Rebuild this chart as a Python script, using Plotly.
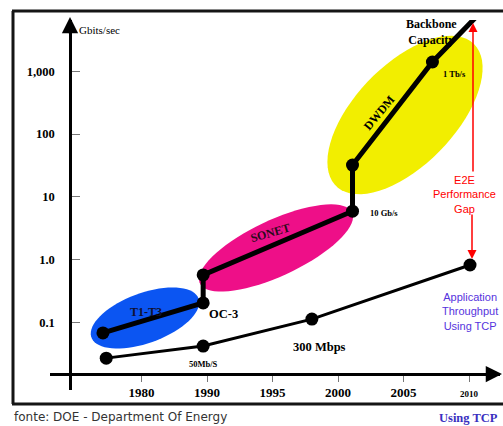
import numpy as np
import plotly.graph_objects as go

# ---------------- data ----------------
tick_years = [1980, 1990, 1995, 2000, 2005, 2010]
tick_labels = ["1980", "1990", "1995", "2000", "2005", "<span style='font-size:9px'>2010</span>"]
y_tick_values = [0.1, 1, 10, 100, 1000]
y_tick_labels = ["0.1", "1.0", "10", "100", "1,000"]

backbone_years = [1974.1, 1989.4, 1989.4, 2001.1, 2001.1, 2007.2, 2010.45]
backbone_gbps = [0.068, 0.204, 0.57, 5.9, 32, 1400, 7000]

app_years = [1974.6, 1989.4, 1998.0, 2010.07]
app_gbps = [0.027, 0.042, 0.113, 0.82]

W, H = 503, 426


def year_pos(years):
    """Map years onto the evenly spaced tick scale of the drawing."""
    ty = np.array(tick_years, float)
    tp = np.arange(len(ty), dtype=float)
    out = []
    for y in np.atleast_1d(years):
        if y < ty[0]:
            out.append(tp[0] + (y - ty[0]) / (ty[1] - ty[0]))
        elif y > ty[-1]:
            out.append(tp[-1] + (y - ty[-1]) / (ty[-1] - ty[-2]))
        else:
            out.append(float(np.interp(y, ty, tp)))
    return out


def px(x, y):
    return x / W, 1 - y / H


def ellipse_path(cx, cy, a, b, ang, n=72):
    t = np.linspace(0, 2 * np.pi, n)
    th = np.radians(ang)
    xs = cx + a * np.cos(th) * np.cos(t) - b * np.sin(th) * np.sin(t)
    ys = cy - (a * np.sin(th) * np.cos(t) + b * np.cos(th) * np.sin(t))
    pts = [px(x, y) for x, y in zip(xs, ys)]
    return "M " + " L ".join(f"{x:.5f},{y:.5f}" for x, y in pts) + " Z"


fig = go.Figure()

fig.add_trace(go.Scatter(
    x=year_pos(app_years), y=app_gbps, mode="lines+markers",
    line=dict(color="black", width=3), marker=dict(color="black", size=13),
    cliponaxis=False, showlegend=False, hoverinfo="skip"))

fig.add_trace(go.Scatter(
    x=year_pos(backbone_years), y=backbone_gbps, mode="lines+markers",
    line=dict(color="black", width=5), marker=dict(color="black", size=13),
    cliponaxis=False, showlegend=False, hoverinfo="skip"))

shapes = []
# highlighted eras
for (cx, cy, a, b, ang, col) in [
    (145, 318, 57, 25, 20, "#0b55f2"),
    (276, 248, 84, 28, 25, "#ee0f88"),
    (405, 115, 99, 50, 46, "#f2ee00"),
]:
    shapes.append(dict(type="path", xref="paper", yref="paper",
                       path=ellipse_path(cx, cy, a, b, ang),
                       fillcolor=col, line=dict(width=0), layer="below"))

# frame
for (x0, y0, x1, y1) in [(12, 11, 503, 11), (13, 11, 13, 404), (12, 404, 503, 404)]:
    a0 = px(x0, y0); a1 = px(x1, y1)
    shapes.append(dict(type="line", xref="paper", yref="paper",
                       x0=a0[0], y0=a0[1], x1=a1[0], y1=a1[1],
                       line=dict(color="#151515", width=3)))

ann = []


def text(x, y, s, size=12, color="black", family="Liberation Serif", angle=0,
         xanchor="center", yanchor="middle", align="center"):
    p = px(x, y)
    ann.append(dict(x=p[0], y=p[1], xref="paper", yref="paper", text=s,
                    showarrow=False, font=dict(size=size, color=color, family=family),
                    textangle=angle, xanchor=xanchor, yanchor=yanchor, align=align))


def arrow(xt, yt, ax, ay, color, width, size):
    p = px(xt, yt)
    ann.append(dict(x=p[0], y=p[1], xref="paper", yref="paper", ax=ax, ay=ay,
                    axref="pixel", ayref="pixel", text="", showarrow=True,
                    arrowhead=2, arrowsize=size, arrowwidth=width, arrowcolor=color))


# axis arrowheads
arrow(70, 17, 0, 18, "black", 2.5, 1.3)
arrow(503, 374, -18, 0, "black", 2.5, 1.3)
# E2E gap arrows
arrow(473, 23, 0, 150, "red", 1.5, 1.2)
arrow(472, 259, 0, -46, "red", 1.5, 1.2)

text(77, 30, "Gbits/sec", size=11, xanchor="left")
text(431, 32, "<b>Backbone<br>Capacity</b>", size=12)
text(454, 74, "<b>1 Tb/s</b>", size=8.5)
text(379, 113, "<b>DWDM</b>", size=12, angle=-50)
text(270, 233, "<b>SONET</b>", size=12, angle=-16, color="#2a0a1a")
text(146, 312, "<b>T1-T3</b>", size=12, color="#101030")
text(223, 314, "<b>OC-3</b>", size=12.5)
text(384, 213, "<b>10 Gb/s</b>", size=8.5)
text(203, 364, "<b>50Mb/S</b>", size=8.5)
text(319, 347, "<b>300 Mbps</b>", size=12.5)
text(464, 194, "E2E<br>Performance<br>Gap", size=11, color="red", family="Liberation Sans")
text(470, 311, "Application<br>Throughput<br>Using TCP", size=11, color="#5533dd",
     family="Liberation Sans")
text(500, 418, "<b>Using TCP</b>", size=12.5, color="#3a2fc0", xanchor="right")
text(12, 417, "fonte: DOE - Department Of Energy", size=12, color="#333333",
     family="DejaVu Sans", xanchor="left")

x_r0 = (50 - 141.6) / 65.5
x_r1 = (500 - 141.6) / 65.5

fig.update_layout(
    width=W, height=H, margin=dict(l=0, r=0, t=0, b=0),
    paper_bgcolor="white", plot_bgcolor="rgba(0,0,0,0)",
    shapes=shapes, annotations=ann,
    xaxis=dict(domain=[50 / W, 500 / W], range=[x_r0, x_r1],
               anchor="free", position=1 - 374 / H,
               showline=True, linecolor="black", linewidth=2.5,
               showgrid=False, zeroline=False,
               tickvals=list(range(len(tick_years))), ticktext=tick_labels,
               ticks="outside", ticklen=6, tickcolor="#777777", tickwidth=1.2,
               ticklabelstandoff=0,
               tickfont=dict(family="Liberation Serif", size=13, color="black", weight="bold")),
    yaxis=dict(type="log", domain=[1 - 390 / H, 1 - 20 / H], range=[-2.076, 3.815],
               anchor="free", position=70 / W,
               showline=True, linecolor="black", linewidth=2.5,
               showgrid=False, zeroline=False,
               tickvals=y_tick_values, ticktext=y_tick_labels,
               ticks="inside", ticklen=8, tickcolor="#777777", tickwidth=1.2,
               ticklabelstandoff=12,
               tickfont=dict(family="Liberation Serif", size=12.5, color="black", weight="bold")),
)

fig.write_html("out.html", config={"displayModeBar": False},
               post_script="document.body.style.margin='0';document.body.style.overflow='hidden';")
